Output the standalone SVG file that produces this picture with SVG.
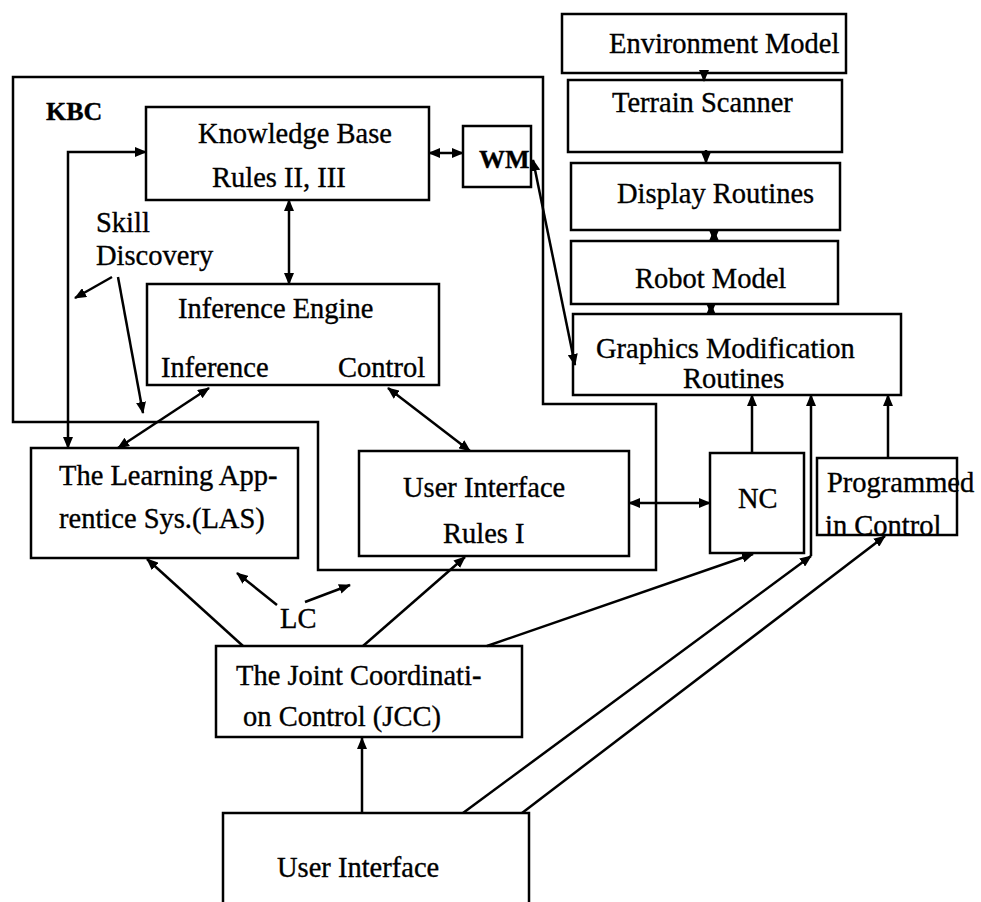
<svg xmlns="http://www.w3.org/2000/svg" width="981" height="902" viewBox="0 0 981 902">
  <defs>
    <style>
      .box { fill: none; stroke: #000; stroke-width: 2.5; }
      .bnd { fill: none; stroke: #000; stroke-width: 2.5; stroke-linejoin: miter; }
      .ln { fill: none; stroke: #000; stroke-width: 2.5; }
      .one { marker-end: url(#ah); }
      .two { marker-start: url(#ah); marker-end: url(#ah); }
      text { font-family: "Liberation Serif", "Times New Roman", serif; font-size: 28.5px; fill: #000; stroke: #000; stroke-width: 0.35; }
      .bold { font-weight: bold; font-size: 26px; }
    </style>
    <marker id="ah" viewBox="0 0 12 10" refX="11" refY="5" markerWidth="12" markerHeight="10" markerUnits="userSpaceOnUse" orient="auto-start-reverse">
      <path d="M0,0 L12,5 L0,10 z" fill="#000"/>
    </marker>
  </defs>
  <rect width="981" height="902" fill="#fff"/>

  <!-- KBC boundary -->
  <g id="kbc">
    <polygon class="bnd" points="13,77 543,77 543,404 656,404 656,570 318,570 318,422 13,422"/>
    <text class="bold" x="46" y="120">KBC</text>
  </g>

  <g id="knowledge-base">
    <rect class="box" x="146" y="107" width="283" height="93"/>
    <text x="198" y="143">Knowledge Base</text>
    <text x="212" y="187">Rules II, III</text>
  </g>

  <g id="wm">
    <rect class="box" x="463" y="126" width="68" height="61"/>
    <text class="bold" x="479" y="168">WM</text>
  </g>

  <g id="inference-engine">
    <rect class="box" x="147" y="284" width="292" height="101"/>
    <text x="178" y="318">Inference Engine</text>
    <text x="161" y="377">Inference</text>
    <text x="338" y="377">Control</text>
  </g>

  <g id="skill-discovery">
    <text x="96" y="232">Skill</text>
    <text x="96" y="265">Discovery</text>
  </g>

  <g id="environment-model">
    <rect class="box" x="562" y="14" width="284" height="59"/>
    <text x="609" y="53">Environment Model</text>
  </g>

  <g id="terrain-scanner">
    <rect class="box" x="568" y="80" width="274" height="72"/>
    <text x="612" y="112">Terrain Scanner</text>
  </g>

  <g id="display-routines">
    <rect class="box" x="571" y="163" width="269" height="67"/>
    <text x="617" y="203">Display Routines</text>
  </g>

  <g id="robot-model">
    <rect class="box" x="571" y="241" width="267" height="63"/>
    <text x="635" y="288">Robot Model</text>
  </g>

  <g id="graphics-modification">
    <rect class="box" x="573" y="314" width="328" height="81"/>
    <text x="596" y="358">Graphics Modification</text>
    <text x="683" y="388">Routines</text>
  </g>

  <g id="las">
    <rect class="box" x="31" y="448" width="267" height="110"/>
    <text x="59" y="485">The Learning App-</text>
    <text x="59" y="528">rentice Sys.(LAS)</text>
  </g>

  <g id="ui-rules">
    <rect class="box" x="359" y="451" width="270" height="105"/>
    <text x="403" y="497">User Interface</text>
    <text x="443" y="543">Rules I</text>
  </g>

  <g id="nc">
    <rect class="box" x="710" y="453" width="94" height="100"/>
    <text x="738" y="508">NC</text>
  </g>

  <g id="programmed-control">
    <rect class="box" x="817" y="458" width="140" height="77"/>
    <text x="827" y="492">Programmed</text>
    <text x="825" y="535">in Control</text>
  </g>

  <g id="lc">
    <text x="280" y="628">LC</text>
  </g>

  <g id="jcc">
    <rect class="box" x="216" y="646" width="306" height="91"/>
    <text x="236" y="685">The Joint Coordinati-</text>
    <text x="243" y="726">on Control (JCC)</text>
  </g>

  <g id="user-interface">
    <rect class="box" x="223" y="813" width="306" height="110"/>
    <text x="277" y="877">User Interface</text>
  </g>

  <!-- connectors -->
  <g id="connectors">
    <line class="ln two" x1="429" y1="153" x2="463" y2="153"/>
    <path class="ln two" d="M146,152 H68 V448"/>
    <line class="ln two" x1="289" y1="200" x2="289" y2="284"/>
    <line class="ln one" x1="112" y1="277" x2="75" y2="298"/>
    <line class="ln one" x1="118" y1="277" x2="143" y2="413"/>
    <line class="ln two" x1="209" y1="388" x2="118" y2="448"/>
    <line class="ln two" x1="388" y1="388" x2="470" y2="451"/>
    <line class="ln two" x1="533" y1="160" x2="575" y2="365"/>
    <line class="ln one" x1="704" y1="71" x2="704" y2="81"/>
    <line class="ln one" x1="706" y1="150" x2="706" y2="163"/>
    <line class="ln two" x1="714" y1="230" x2="714" y2="241"/>
    <line class="ln two" x1="711" y1="304" x2="711" y2="314"/>
    <line class="ln two" x1="629" y1="503" x2="710" y2="503"/>
    <line class="ln one" x1="752" y1="453" x2="752" y2="395"/>
    <line class="ln one" x1="888" y1="458" x2="888" y2="395"/>
    <line class="ln one" x1="243" y1="646" x2="147" y2="559"/>
    <line class="ln one" x1="363" y1="646" x2="465" y2="557"/>
    <line class="ln one" x1="487" y1="646" x2="753" y2="554"/>
    <line class="ln one" x1="362" y1="813" x2="362" y2="738"/>
    <line class="ln one" x1="463" y1="813" x2="811" y2="556"/>
    <line class="ln one" x1="811" y1="556" x2="811" y2="395"/>
    <line class="ln one" x1="522" y1="813" x2="885" y2="536"/>
    <line class="ln one" x1="277" y1="605" x2="237" y2="573"/>
    <line class="ln one" x1="305" y1="602" x2="350" y2="585"/>
  </g>
</svg>
